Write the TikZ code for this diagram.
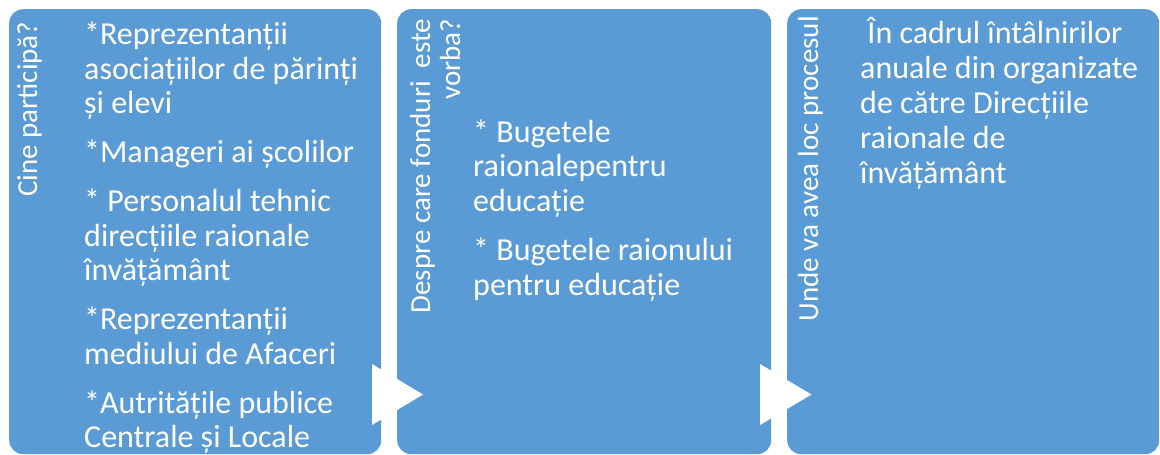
\documentclass[tikz,border=0pt]{standalone}
\usepackage{fontspec}
\setmainfont{Carlito}
\definecolor{boxblue}{HTML}{5B9BD5}
\tikzset{
  panel/.style={fill=boxblue, draw=none, rounded corners=14pt, anchor=north west, minimum height=445pt, inner sep=0pt},
  body/.style={text=white, anchor=base west, inner sep=0pt, font=\fontsize{32}{34.7}\selectfont},
  vlabel/.style={text=white, anchor=base east, rotate=90, inner sep=0pt, font=\fontsize{29}{30}\selectfont},
  arrowtri/.style={fill=white, draw=none}
}
\begin{document}
\begin{tikzpicture}[x=1pt,y=-1pt]
\useasboundingbox (0,0) rectangle (1160,455);
\node[panel, minimum width=372pt] (p1) at (9,9) {};
\node[panel, minimum width=374pt] (p2) at (397,9) {};
\node[panel, minimum width=372pt] (p3) at (787,9) {};

% arrows between panels
\fill[arrowtri] (372,364) -- (423,394.5) -- (372,425) -- cycle;
\fill[arrowtri] (760,364) -- (811.5,394.5) -- (760,425) -- cycle;

% vertical labels
\node[vlabel] (l1) at (37,21.5) {Cine participă?};
\node[vlabel] (l2a) at (430,18.5) {Despre care fonduri\ \ este};
\node[vlabel] (l2b) at (460,18.5) {vorba?};
\node[vlabel] (l3) at (818,16) {Unde va avea loc procesul};

% panel 1 text
\node[body] (a1) at (84,44.5) {*Reprezentanții};
\node[body] (a2) at (84,79) {asociațiilor de părinți};
\node[body] (a3) at (84,113.5) {și elevi};
\node[body] (a4) at (84,162.5) {*Manageri ai școlilor};
\node[body] (a5) at (84,211.5) {* Personalul tehnic};
\node[body] (a6) at (84,246) {direcțiile raionale};
\node[body] (a7) at (84,280.5) {învățământ};
\node[body] (a8) at (84,329.5) {*Reprezentanții};
\node[body] (a9) at (84,364) {mediului de Afaceri};
\node[body] (a10) at (84,413) {*Autritățile publice};
\node[body] (a11) at (84,447.5) {Centrale și Locale};

% panel 2 text
\node[body] (b1) at (473,142) {* Bugetele};
\node[body] (b2) at (473,176.7) {raionalepentru};
\node[body] (b3) at (473,211.4) {educație};
\node[body] (b4) at (473,260.6) {* Bugetele raionului};
\node[body] (b5) at (473,295.3) {pentru educație};

% panel 3 text
\node[body] (c1) at (860,43) {\ În cadrul întâlnirilor};
\node[body] (c2) at (860,78) {anuale din organizate};
\node[body] (c3) at (860,113) {de către Direcțiile};
\node[body] (c4) at (860,148) {raionale de};
\node[body] (c5) at (860,183) {învățământ};
\end{tikzpicture}
\end{document}
